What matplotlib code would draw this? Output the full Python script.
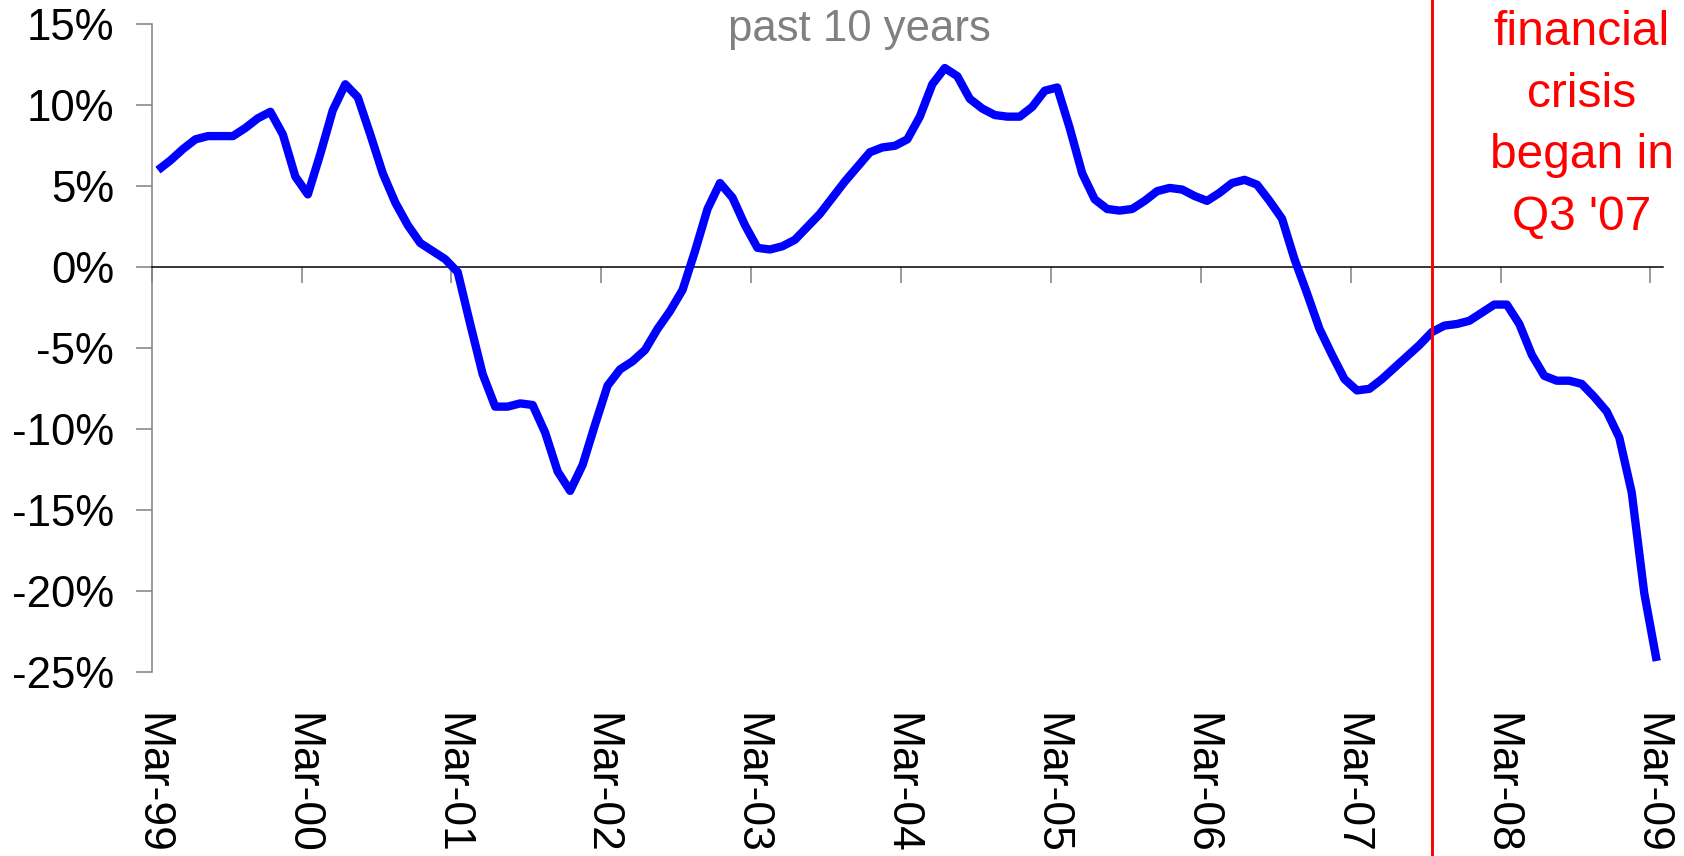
import numpy as np
import matplotlib
matplotlib.use("Agg")
import matplotlib.pyplot as plt

# year-over-year change in %, one value per month, Mar-99 .. Mar-09
yoy = [6.0, 6.6, 7.3, 7.9, 8.1, 8.1, 8.1, 8.6, 9.2, 9.6, 8.2, 5.6,
       4.5, 7.0, 9.7, 11.3, 10.5, 8.2, 5.8, 4.0, 2.6, 1.5, 1.0, 0.5,
       -0.3, -3.5, -6.6, -8.6, -8.6, -8.4, -8.5, -10.2, -12.6, -13.8, -12.2, -9.7,
       -7.3, -6.3, -5.8, -5.1, -3.8, -2.7, -1.4, 1.0, 3.6, 5.2, 4.3, 2.6,
       1.2, 1.1, 1.3, 1.7, 2.5, 3.3, 4.3, 5.3, 6.2, 7.1, 7.4, 7.5,
       7.9, 9.3, 11.3, 12.3, 11.8, 10.4, 9.8, 9.4, 9.3, 9.3, 9.9, 10.9,
       11.1, 8.6, 5.8, 4.2, 3.6, 3.5, 3.6, 4.1, 4.7, 4.9, 4.8, 4.4,
       4.1, 4.6, 5.2, 5.4, 5.1, 4.1, 3.0, 0.5, -1.6, -3.8, -5.4, -6.9,
       -7.6, -7.5, -6.9, -6.2, -5.5, -4.8, -4.0, -3.6, -3.5, -3.3, -2.8, -2.3,
       -2.3, -3.5, -5.4, -6.7, -7.0, -7.0, -7.2, -8.0, -8.9, -10.5, -13.9, -20.1,
       -24.3]

tick_labels = ["Mar-99", "Mar-00", "Mar-01", "Mar-02", "Mar-03", "Mar-04",
               "Mar-05", "Mar-06", "Mar-07", "Mar-08", "Mar-09"]
y_ticks = [-25, -20, -15, -10, -5, 0, 5, 10, 15]
crisis_month = 102  # Sep-07, months after Mar-99

plt.rcParams['font.family'] = ['Liberation Sans', 'DejaVu Sans']

fig = plt.figure(figsize=(16.84, 8.56), dpi=100)
ax = fig.add_axes([0.0901, 0.2146, 0.8974, 0.757])

# excel style category axis: points sit between the tick marks
x = np.arange(len(yoy)) + 0.5
ax.plot(x, yoy, color='#0000ff', lw=6, solid_joinstyle='round',
        solid_capstyle='butt', zorder=3)

ax.set_xlim(0, len(yoy))
ax.set_ylim(-25, 15)
ax.set_yticks(y_ticks)
ax.set_yticklabels([f"{v}%" for v in y_ticks])
ax.set_xticks(np.arange(0, len(yoy), 12))

for side in ['top', 'right']:
    ax.spines[side].set_visible(False)
ax.spines['left'].set_color('#808080')
ax.spines['left'].set_linewidth(1.1)
ax.spines['bottom'].set_position(('data', 0))
ax.spines['bottom'].set_color('black')
ax.spines['bottom'].set_linewidth(1.1)

ax.tick_params(axis='x', direction='out', length=11.5, width=1.1,
               color='#808080', labelbottom=False)
ax.tick_params(axis='y', direction='out', length=11.5, width=1.1,
               color='#808080', labelsize=31.5, pad=15.5)

# date labels sit low, under the plot, not on the zero line
sec = ax.secondary_xaxis('bottom')
sec.set_xticks(np.arange(0, len(yoy), 12), labels=tick_labels)
sec.tick_params(length=0, labelsize=32, pad=29, labelrotation=-90)
sec.spines['bottom'].set_visible(False)

ax.axvline(crisis_month + 0.5, ymin=-0.29, ymax=1.04, color='red', lw=2.1,
           clip_on=False, zorder=4)

ax.text(56.7, 14.0, "past 10 years", color='#808080', fontsize=31.5,
        ha='center', va='baseline')
ax.text(114.5, 15.9, "financial\ncrisis\nbegan in\nQ3 '07", color='red',
        fontsize=34.5, ha='center', va='top', linespacing=1.48, clip_on=False)

fig.savefig('out.png', dpi=100)
